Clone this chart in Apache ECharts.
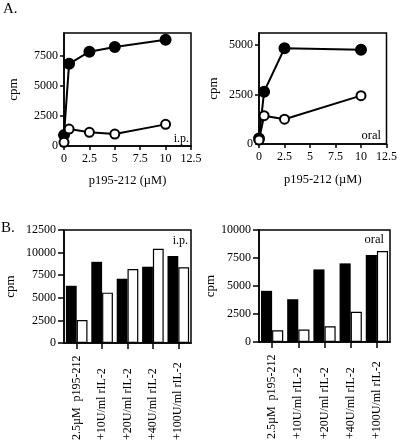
<!DOCTYPE html>
<html><head><meta charset="utf-8">
<script src="https://cdn.jsdelivr.net/npm/echarts@6/dist/echarts.min.js"></script>
<style>html,body{margin:0;padding:0;background:#fff}#c{width:400px;height:443px}</style>
</head><body><div id="c"></div>
<script>
// ---- data ----
const doseIp = [0, 0.5, 2.5, 5, 10];
const ipStim = [900, 6800, 7800, 8200, 8800];
const ipCtrl = [300, 1400, 1130, 990, 1790];
const doseOral = [0, 0.5, 2.5, 10];
const oralStim = [280, 2640, 4830, 4750];
const oralCtrl = [200, 1430, 1250, 2440];
const doseTicks = [0, 2.5, 5, 7.5, 10, 12.5];
const cpmTicksIpA = [0, 2500, 5000, 7500];
const cpmTicksOralA = [0, 2500, 5000];
const barCats = ['2.5µM  p195-212', '+10U/ml rIL-2', '+20U/ml rIL-2', '+40U/ml rIL-2', '+100U/ml rIL-2'];
const ipBlack = [6330, 8980, 7110, 8440, 9630];
const ipWhite = [2550, 5570, 8190, 10420, 8370];
const oralBlack = [4570, 3820, 6480, 7020, 7760];
const oralWhite = [1050, 1110, 1400, 2690, 8120];

const F = '"Liberation Serif", "Times New Roman", serif';
const chart = echarts.init(document.getElementById('c'));
const lbl = {color:'#000', fontFamily:F, fontSize:12, formatter: v => String(v)};
const axLine = {lineStyle:{color:'#000', width:1.5}};

function xVal(gi, nameGap){
  return {type:'value', gridIndex:gi, min:0, max:12.5, interval:2.5,
    axisLine:axLine, axisTick:{show:true, length:4, lineStyle:{color:'#000', width:1.5}},
    axisLabel:Object.assign({margin:7, customValues:doseTicks}, lbl), splitLine:{show:false},
    name:'p195-212 (µM)', nameLocation:'middle', nameGap:nameGap,
    nameTextStyle:{color:'#000', fontFamily:F, fontSize:12.5}};
}
function yVal(gi, max, interval, ticks, nameGap, tickLen, margin){
  const o = {type:'value', gridIndex:gi, min:0, max:max, interval:interval,
    axisLine:{show:true, lineStyle:{color:'#000', width:1.5}},
    axisTick:{show:true, length:tickLen, lineStyle:{color:'#000', width:1.5}},
    axisLabel:Object.assign({margin:margin}, lbl), splitLine:{show:false},
    name:'cpm', nameLocation:'middle', nameGap:nameGap, nameRotate:90,
    nameTextStyle:{color:'#000', fontFamily:F, fontSize:13}};
  if (ticks) { o.axisLabel.customValues = ticks; o.axisTick.customValues = ticks; }
  return o;
}
function xCat(gi){
  return {type:'category', gridIndex:gi, data:barCats,
    axisLine:axLine, axisTick:{show:true, alignWithLabel:true, length:6, lineStyle:{color:'#000', width:1.5}},
    axisLabel:{rotate:90, margin:12, interval:0,
      formatter:v => '{a|' + v + '}',
      rich:{a:{width:85, align:'left', color:'#000', fontFamily:F, fontSize:12}}}};
}
function lineSeries(gi, xs, ys, filled){
  return {type:'line', xAxisIndex:gi, yAxisIndex:gi, data:xs.map((x,i)=>[x, ys[i]]),
    symbol:'circle', symbolSize:filled ? 10 : 9, clip:false,
    lineStyle:{color:'#000', width:2},
    itemStyle:{color:filled ? '#000' : '#fff', borderColor:'#000', borderWidth:2},
    emphasis:{disabled:true}, z: filled ? 2 : 3};
}
function barSeries(gi, ys, black){
  return {type:'bar', xAxisIndex:gi, yAxisIndex:gi, data:ys, barGap:'0%', barCategoryGap:'15%',
    itemStyle:{color:black ? '#000' : '#fff', borderColor:'#000', borderWidth:black ? 0 : 1.2},
    emphasis:{disabled:true}};
}
const gridBase = {show:true, borderColor:'#000', borderWidth:1.5, backgroundColor:'transparent'};
function txt(x, y, s, size, align){
  return {type:'text', x:x, y:y, style:{text:s, fill:'#000', font: size + 'px ' + F, textAlign:align||'left', textVerticalAlign:'bottom'}};
}

chart.setOption({
  animation:false,
  backgroundColor:'#fff',
  grid:[
    Object.assign({left:64, top:33, width:127, height:113}, gridBase),
    Object.assign({left:259, top:33, width:128, height:111}, gridBase),
    Object.assign({left:64, top:230, width:127, height:116}, gridBase),
    Object.assign({left:259, top:230, width:131, height:112}, gridBase)
  ],
  xAxis:[xVal(0, 28), xVal(1, 29), xCat(2), xCat(3)],
  yAxis:[
    yVal(0, 9350, 2500, cpmTicksIpA, 44, 4, 6),
    yVal(1, 5600, 2500, cpmTicksOralA, 39, 4, 6),
    yVal(2, 12500, 2500, null, 47, 6, 8),
    yVal(3, 10000, 2500, null, 41, 6, 8)
  ],
  series:[
    lineSeries(0, doseIp, ipStim, true),
    lineSeries(0, doseIp, ipCtrl, false),
    lineSeries(1, doseOral, oralStim, true),
    lineSeries(1, doseOral, oralCtrl, false),
    barSeries(2, ipBlack, true),
    barSeries(2, ipWhite, false),
    barSeries(3, oralBlack, true),
    barSeries(3, oralWhite, false)
  ],
  graphic:[
    txt(3, 17, 'A.', 15),
    txt(1, 236, 'B.', 15),
    txt(189, 145, 'i.p.', 12, 'right'),
    txt(381, 142, 'oral', 12.5, 'right'),
    txt(188, 247, 'i.p.', 12, 'right'),
    txt(384, 246, 'oral', 12.5, 'right')
  ]
});
</script></body></html>
